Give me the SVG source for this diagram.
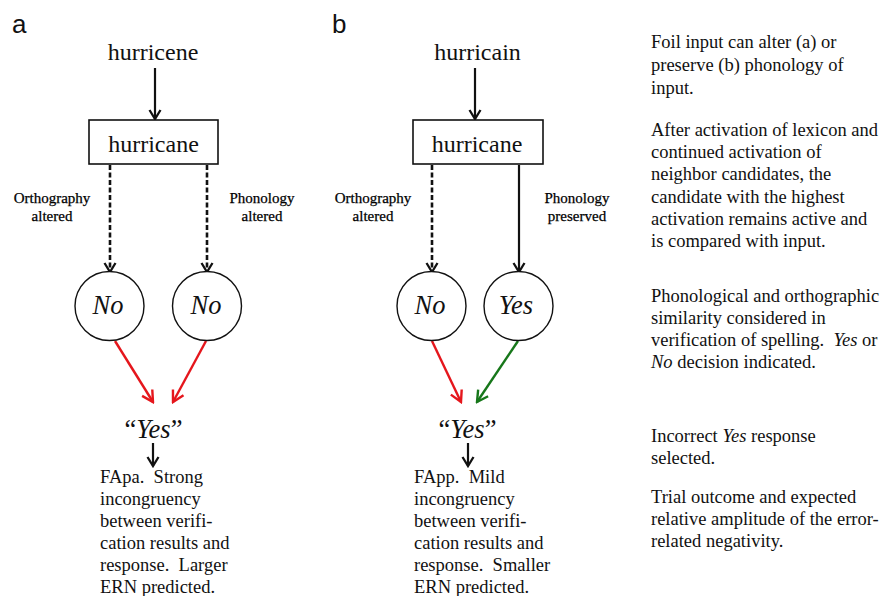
<svg xmlns="http://www.w3.org/2000/svg" width="881" height="596" viewBox="0 0 881 596">
<style>
  .serif { font-family: "Liberation Serif", "Times New Roman", serif; fill: #111; }
  .panel { font-family: "Liberation Sans", Arial, sans-serif; font-size: 26px; fill: #111; }
  .word { font-size: 24px; text-anchor: middle; }
  .lbl { font-size: 15px; text-anchor: middle; fill: #000; stroke: #000; stroke-width: 0.25; }
  .dec { font-size: 26.5px; font-style: italic; text-anchor: middle; }
  .body { font-size: 18.5px; }
  .it { font-style: italic; }
  .box { fill: #fff; stroke: #111; stroke-width: 1.6; }
  .node { fill: #fff; stroke: #111; stroke-width: 1.4; }
  .arr { fill: none; stroke: #111; stroke-width: 2.2; marker-end: url(#ah); }
  .dash { stroke-dasharray: 5 2.5; stroke-width: 2.6; }
  .red { fill: none; stroke: #e5161c; stroke-width: 2.4; marker-end: url(#ahr); }
  .grn { fill: none; stroke: #17771a; stroke-width: 2.4; marker-end: url(#ahg); }
</style>
<defs>
  <marker id="ah" markerUnits="userSpaceOnUse" viewBox="-12 -8 14 16" markerWidth="14" markerHeight="16" refX="0" refY="0" orient="auto">
    <path d="M -9 -5.5 L 0 0 L -9 5.5" fill="none" stroke="#111" stroke-width="2.3"/>
  </marker>
  <marker id="ahr" markerUnits="userSpaceOnUse" viewBox="-14 -9 16 18" markerWidth="16" markerHeight="18" refX="0" refY="0" orient="auto">
    <path d="M -11 -6 L 0 0 L -11 6" fill="none" stroke="#e5161c" stroke-width="2.4"/>
  </marker>
  <marker id="ahg" markerUnits="userSpaceOnUse" viewBox="-14 -9 16 18" markerWidth="16" markerHeight="18" refX="0" refY="0" orient="auto">
    <path d="M -11 -6 L 0 0 L -11 6" fill="none" stroke="#17771a" stroke-width="2.4"/>
  </marker>
</defs>
<rect width="881" height="596" fill="#fff"/>

<text class="panel" x="12" y="33">a</text>
<text class="panel" x="332" y="33">b</text>

<g id="connectors">
  <line class="arr" x1="155" y1="68" x2="155" y2="119"/>
  <line class="arr dash" x1="110" y1="165" x2="110" y2="272"/>
  <line class="arr dash" x1="207" y1="165" x2="207" y2="272"/>
  <line class="red" x1="115" y1="341" x2="153" y2="402"/>
  <line class="red" x1="206" y1="341" x2="173" y2="402"/>
  <line class="arr" x1="153" y1="443" x2="153" y2="466"/>

  <line class="arr" x1="475" y1="68" x2="475" y2="119"/>
  <line class="arr dash" x1="432" y1="165" x2="432" y2="272"/>
  <line class="arr" x1="519" y1="165" x2="519" y2="272"/>
  <line class="red" x1="432" y1="341" x2="461" y2="402"/>
  <line class="grn" x1="518" y1="341" x2="477" y2="402"/>
  <line class="arr" x1="468" y1="443" x2="468" y2="466"/>
</g>

<g id="a-input"><text class="serif word" x="153" y="60">hurricene</text></g>
<g id="a-lexicon">
  <rect class="box" x="89" y="120" width="129" height="44"/>
  <text class="serif word" x="153.5" y="152">hurricane</text>
</g>
<g id="a-label-orth"><text class="serif lbl" x="52" y="203">Orthography<tspan x="52" y="221">altered</tspan></text></g>
<g id="a-label-phon"><text class="serif lbl" x="262" y="203">Phonology<tspan x="262" y="221">altered</tspan></text></g>
<g id="a-no1">
  <circle class="node" cx="109.5" cy="306" r="34.5"/>
  <text class="serif dec" x="108" y="314">No</text>
</g>
<g id="a-no2">
  <circle class="node" cx="207" cy="306" r="34.5"/>
  <text class="serif dec" x="206" y="314">No</text>
</g>
<g id="a-response"><text class="serif dec" x="153.5" y="438"><tspan font-style="normal">“</tspan>Yes<tspan font-style="normal">”</tspan></text></g>
<g id="a-outcome">
  <text class="serif body" x="100" y="483">FApa.&#160; Strong<tspan x="100" y="505">incongruency</tspan><tspan x="100" y="527">between verifi-</tspan><tspan x="100" y="549">cation results and</tspan><tspan x="100" y="571">response.&#160; Larger</tspan><tspan x="100" y="593">ERN predicted.</tspan></text>
</g>

<g id="b-input"><text class="serif word" x="477.5" y="60">hurricain</text></g>
<g id="b-lexicon">
  <rect class="box" x="413" y="120" width="130" height="44"/>
  <text class="serif word" x="477" y="152">hurricane</text>
</g>
<g id="b-label-orth"><text class="serif lbl" x="373" y="203">Orthography<tspan x="373" y="221">altered</tspan></text></g>
<g id="b-label-phon"><text class="serif lbl" x="577" y="203">Phonology<tspan x="577" y="221">preserved</tspan></text></g>
<g id="b-no">
  <circle class="node" cx="431.5" cy="306" r="34.5"/>
  <text class="serif dec" x="430" y="314">No</text>
</g>
<g id="b-yes">
  <circle class="node" cx="518.5" cy="306" r="34.5"/>
  <text class="serif dec" x="516" y="314">Yes</text>
</g>
<g id="b-response"><text class="serif dec" x="467.5" y="438"><tspan font-style="normal">“</tspan>Yes<tspan font-style="normal">”</tspan></text></g>
<g id="b-outcome">
  <text class="serif body" x="414" y="483">FApp.&#160; Mild<tspan x="414" y="505">incongruency</tspan><tspan x="414" y="527">between verifi-</tspan><tspan x="414" y="549">cation results and</tspan><tspan x="414" y="571">response.&#160; Smaller</tspan><tspan x="414" y="593">ERN predicted.</tspan></text>
</g>

<g id="notes">
  <text class="serif body" x="651" y="48">Foil input can alter (a) or<tspan x="651" y="71">preserve (b) phonology of</tspan><tspan x="651" y="94">input.</tspan></text>
  <text class="serif body" x="651" y="136">After activation of lexicon and<tspan x="651" y="158">continued activation of</tspan><tspan x="651" y="180">neighbor candidates, the</tspan><tspan x="651" y="203">candidate with the highest</tspan><tspan x="651" y="225">activation remains active and</tspan><tspan x="651" y="247">is compared with input.</tspan></text>
  <text class="serif body" x="651" y="302">Phonological and orthographic<tspan x="651" y="324">similarity considered in</tspan><tspan x="651" y="346">verification of spelling.&#160; <tspan class="it">Yes</tspan> or</tspan><tspan x="651" y="368"><tspan class="it">No</tspan> decision indicated.</tspan></text>
  <text class="serif body" x="651" y="442">Incorrect <tspan class="it">Yes</tspan> response<tspan x="651" y="464">selected.</tspan></text>
  <text class="serif body" x="651" y="503">Trial outcome and expected<tspan x="651" y="525">relative amplitude of the error-</tspan><tspan x="651" y="547">related negativity.</tspan></text>
</g>
</svg>
